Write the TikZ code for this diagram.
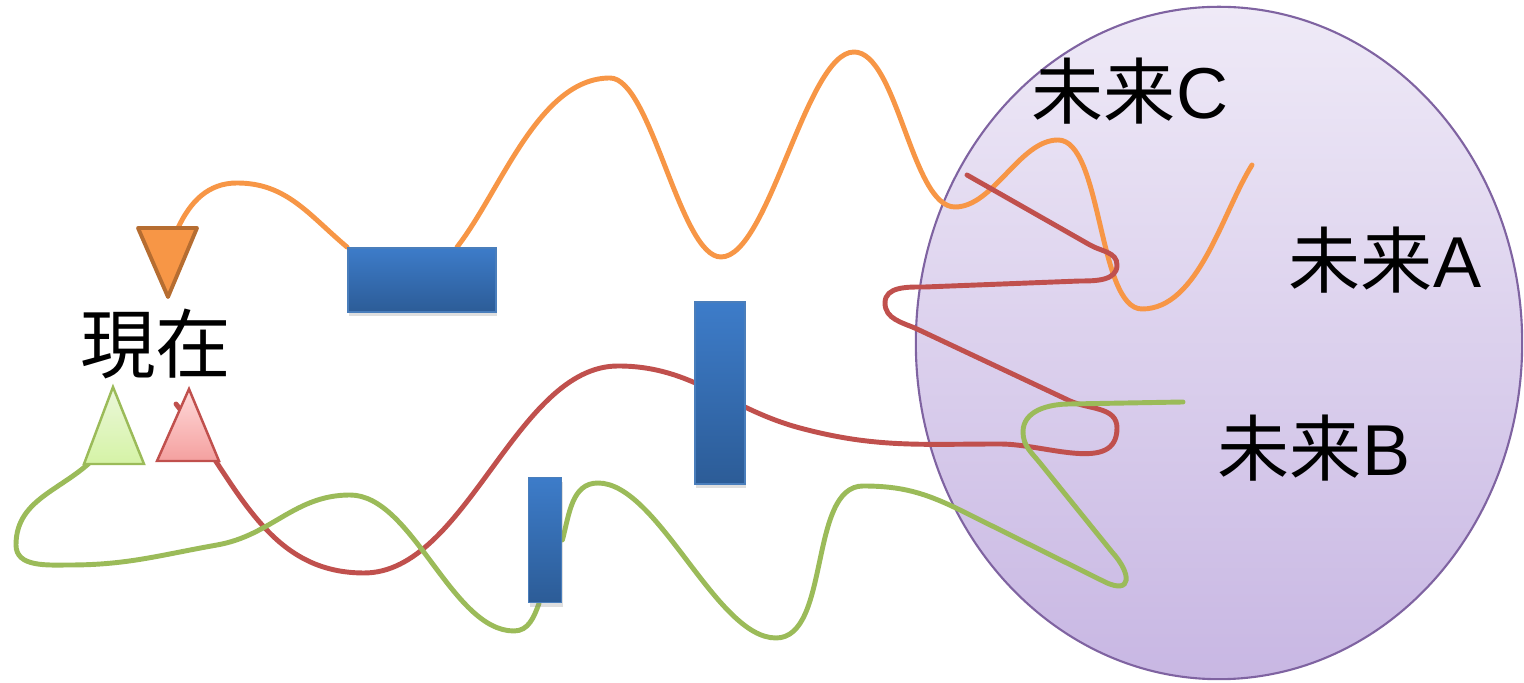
\documentclass[tikz,border=0pt]{standalone}
\usepackage{fontspec}
\setmainfont{Liberation Sans}
\newfontfamily\jpfont{Noto Sans CJK JP}
\usetikzlibrary{calc,shadows,backgrounds}
\definecolor{orn}{HTML}{F79646}
\definecolor{ornd}{HTML}{B66D31}
\definecolor{rd}{HTML}{C0504D}
\definecolor{rdtop}{HTML}{FFDADA}
\definecolor{rdbot}{HTML}{F4A09F}
\definecolor{grn}{HTML}{9BBB59}
\definecolor{grntop}{HTML}{EBF7DA}
\definecolor{grnbot}{HTML}{D5F3A6}
\definecolor{blu}{HTML}{4A7EBB}
\definecolor{blutop}{HTML}{3D7CC9}
\definecolor{blubot}{HTML}{2C5C97}
\definecolor{vio}{HTML}{7F63A1}
\definecolor{viotop}{HTML}{EFEAF7}
\definecolor{viobot}{HTML}{C8B7E3}

\begin{document}
\begin{tikzpicture}[x=0.01cm,y=0.01cm,
  wave/.style={line width=1.4pt,line cap=round},
  blk/.style={draw=blu,line width=0.5pt,top color=blutop,bottom color=blubot,inner sep=0pt,
    drop shadow={opacity=0.25,shadow xshift=0.4pt,shadow yshift=-1.2pt}},
  lbl/.style={font=\fontsize{20.5}{24}\selectfont,inner sep=0pt}]
  \useasboundingbox (0,0) rectangle (1524,-683);
  % obstacles
  \node[blk,minimum width=1.48cm,minimum height=0.64cm] (bar1) at (422,-280) {};
  \node[blk,minimum width=0.50cm,minimum height=1.82cm] (bar2) at (720,-393) {};
  \node[blk,minimum width=0.33cm,minimum height=1.25cm] (bar3) at (545,-540) {};
  % the present: three markers
  \draw[ornd,fill=orn,line width=1.1pt,line join=round] (138,-228) -- (197,-228) -- (168,-297) -- cycle;
  \draw[grn,line width=0.7pt,top color=grntop,bottom color=grnbot] (84,-464) -- (113,-387) -- (144,-464) -- cycle;
  \draw[rd,line width=0.7pt,top color=rdtop,bottom color=rdbot] (157,-461) -- (189,-389) -- (219,-461) -- cycle;
  \coordinate (oStart) at (178,-228);
  \coordinate (rStart) at (176,-404);
  \coordinate (gStart) at (100,-452);
  \node[lbl,font=\fontsize{21.5}{24}\selectfont] (now) at (156,-344) {\jpfont 現在};
  \begin{scope}[on background layer]
    % the future
    \draw[vio,line width=0.6pt,top color=viotop,bottom color=viobot] (1219,-343) ellipse [x radius=3.03cm,y radius=3.36cm];
    % path C
    \draw[wave,orn] (oStart) to[out=65,in=180] (237,-183) to[out=0,in=140] (bar1.north west);
    \draw[wave,orn] ($(bar1.north)+(35,0)$) to[out=52,in=180,looseness=0.8] (610,-78)
      to[out=0,in=180,looseness=0.5] (721,-257) to[out=0,in=180,looseness=0.5] (854,-52)
      to[out=0,in=180,looseness=0.6] (955,-207) to[out=0,in=180,looseness=0.8] (1058,-140)
      to[out=0,in=180,looseness=0.6] (1142,-309) to[out=0,in=-122,looseness=0.8] (1252,-165);
    % path A
    \draw[wave,rd] (rStart) to[out=-52,in=180] (364,-573) to[out=0,in=180,looseness=0.8] (618,-366)
      to[out=0,in=165] (800,-428) to[out=-15,in=180] (1000,-444) to[out=0,in=-90] (1117,-428)
      to[out=90,in=-24] (1070,-401) -- (917,-329) to[out=156,in=-90] (885,-303)
      to[out=90,in=180] (925,-287) -- (1080,-281) to[out=0,in=-90] (1117,-265)
      to[out=90,in=-30] (1090,-245) -- (967,-175);
    % path B
    \draw[wave,grn] (gStart) to[out=-130,in=90] (16,-545) to[out=-90,in=180] (70,-565)
      to[out=0,in=190] (217,-545) to[out=10,in=180] (350,-495) to[out=0,in=180,looseness=0.75] (514,-631)
      to[out=0,in=-110] ($(bar3.south)+(-6,0)$);
    \draw[wave,grn] (bar3.east) to[out=75,in=180] (598,-483) to[out=0,in=180,looseness=0.65] (776,-638)
      to[out=0,in=180,looseness=0.8] (863,-486) to[out=0,in=154] (960,-510) -- (1105,-582)
      .. controls (1132,-595) and (1132,-574) .. (1112,-552) -- (1040,-463)
      to[out=129,in=-90] (1023,-432) to[out=90,in=180] (1070,-404) -- (1183,-402);
  \end{scope}
  \node[lbl] (futC) at (1130,-91) {{\jpfont 未来}C};
  \node[lbl] (futA) at (1385,-260) {{\jpfont 未来}A};
  \node[lbl] (futB) at (1314,-448) {{\jpfont 未来}B};
\end{tikzpicture}
\end{document}
